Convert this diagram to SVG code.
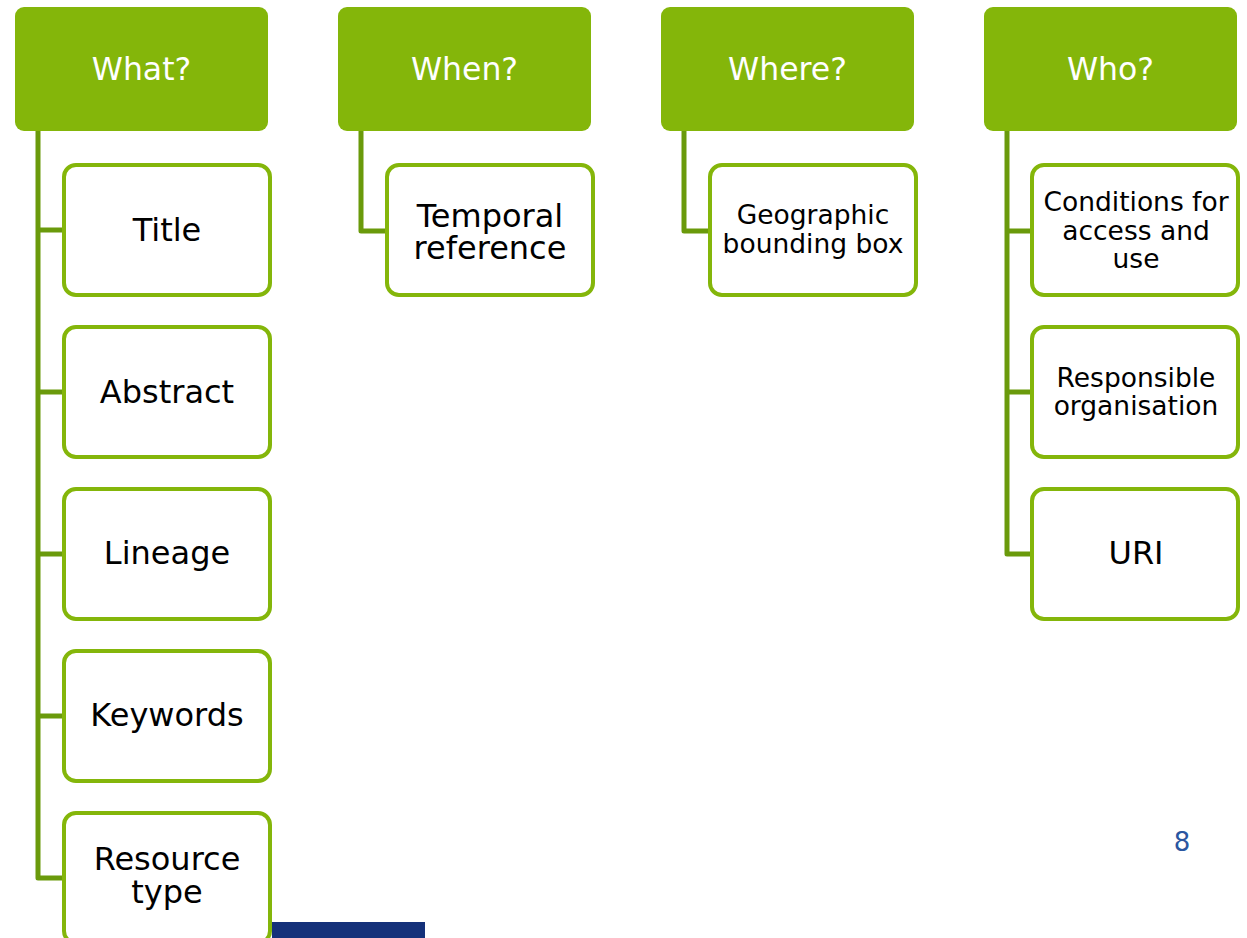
<svg xmlns="http://www.w3.org/2000/svg" width="1247" height="938" viewBox="0 0 1247 938">
<style>
.hdr{fill:#84B60A}
.box{fill:#FFFFFF;stroke:#84B60A;stroke-width:4}
.conn{fill:none;stroke:#6A9A0B;stroke-width:5;stroke-linejoin:round}
text{font-family:"DejaVu Sans","Noto Sans",sans-serif;text-anchor:middle}
.ht{fill:#FFFFFF;font-size:31.5px}
.bt{fill:#000000;font-size:32px}
.st{fill:#000000;font-size:26.5px}
</style>
<rect x="272" y="922" width="153" height="16" fill="#15317A"/>
<g id="connectors">
<path class="conn" d="M38,131 V878 H64 M38,230 H64 M38,392 H64 M38,554 H64 M38,716 H64"/>
<path class="conn" d="M361,131 V231 H387"/>
<path class="conn" d="M684,131 V231 H710"/>
<path class="conn" d="M1007,131 V554 H1032 M1007,231 H1032 M1007,392 H1032"/>
</g>
<g id="what"><rect class="hdr" x="15" y="7" width="253" height="124" rx="9"/><text class="ht" x="141.5" y="80">What?</text></g>
<g id="when"><rect class="hdr" x="338" y="7" width="253" height="124" rx="9"/><text class="ht" x="464.5" y="80">When?</text></g>
<g id="where"><rect class="hdr" x="661" y="7" width="253" height="124" rx="9"/><text class="ht" x="787.5" y="80">Where?</text></g>
<g id="who"><rect class="hdr" x="984" y="7" width="253" height="124" rx="9"/><text class="ht" x="1110.5" y="80">Who?</text></g>
<g id="title"><rect class="box" x="64" y="165" width="206" height="130" rx="12"/><text class="bt" x="167" y="241">Title</text></g>
<g id="abstract"><rect class="box" x="64" y="327" width="206" height="130" rx="12"/><text class="bt" x="167" y="403">Abstract</text></g>
<g id="lineage"><rect class="box" x="64" y="489" width="206" height="130" rx="12"/><text class="bt" x="167" y="564">Lineage</text></g>
<g id="keywords"><rect class="box" x="64" y="651" width="206" height="130" rx="12"/><text class="bt" x="167" y="726">Keywords</text></g>
<g id="resource-type"><rect class="box" x="64" y="813" width="206" height="130" rx="12"/><text class="bt" x="167" y="870">Resource</text><text class="bt" x="167" y="903">type</text></g>
<g id="temporal-reference"><rect class="box" x="387" y="165" width="206" height="130" rx="12"/><text class="bt" x="490" y="227">Temporal</text><text class="bt" x="490" y="259">reference</text></g>
<g id="geographic-bounding-box"><rect class="box" x="710" y="165" width="206" height="130" rx="12"/><text class="st" x="813" y="224">Geographic</text><text class="st" x="813" y="253">bounding box</text></g>
<g id="conditions"><rect class="box" x="1032" y="165" width="206" height="130" rx="12"/><text class="st" x="1136" y="211">Conditions for</text><text class="st" x="1136" y="240">access and</text><text class="st" x="1136" y="268">use</text></g>
<g id="responsible-organisation"><rect class="box" x="1032" y="327" width="206" height="130" rx="12"/><text class="st" x="1136" y="387">Responsible</text><text class="st" x="1136" y="415">organisation</text></g>
<g id="uri"><rect class="box" x="1032" y="489" width="206" height="130" rx="12"/><text class="bt" x="1136" y="564">URI</text></g>
<text x="1182" y="851" style="font-family:'DejaVu Sans',sans-serif;font-size:26px;fill:#2A56A0">8</text>
</svg>
